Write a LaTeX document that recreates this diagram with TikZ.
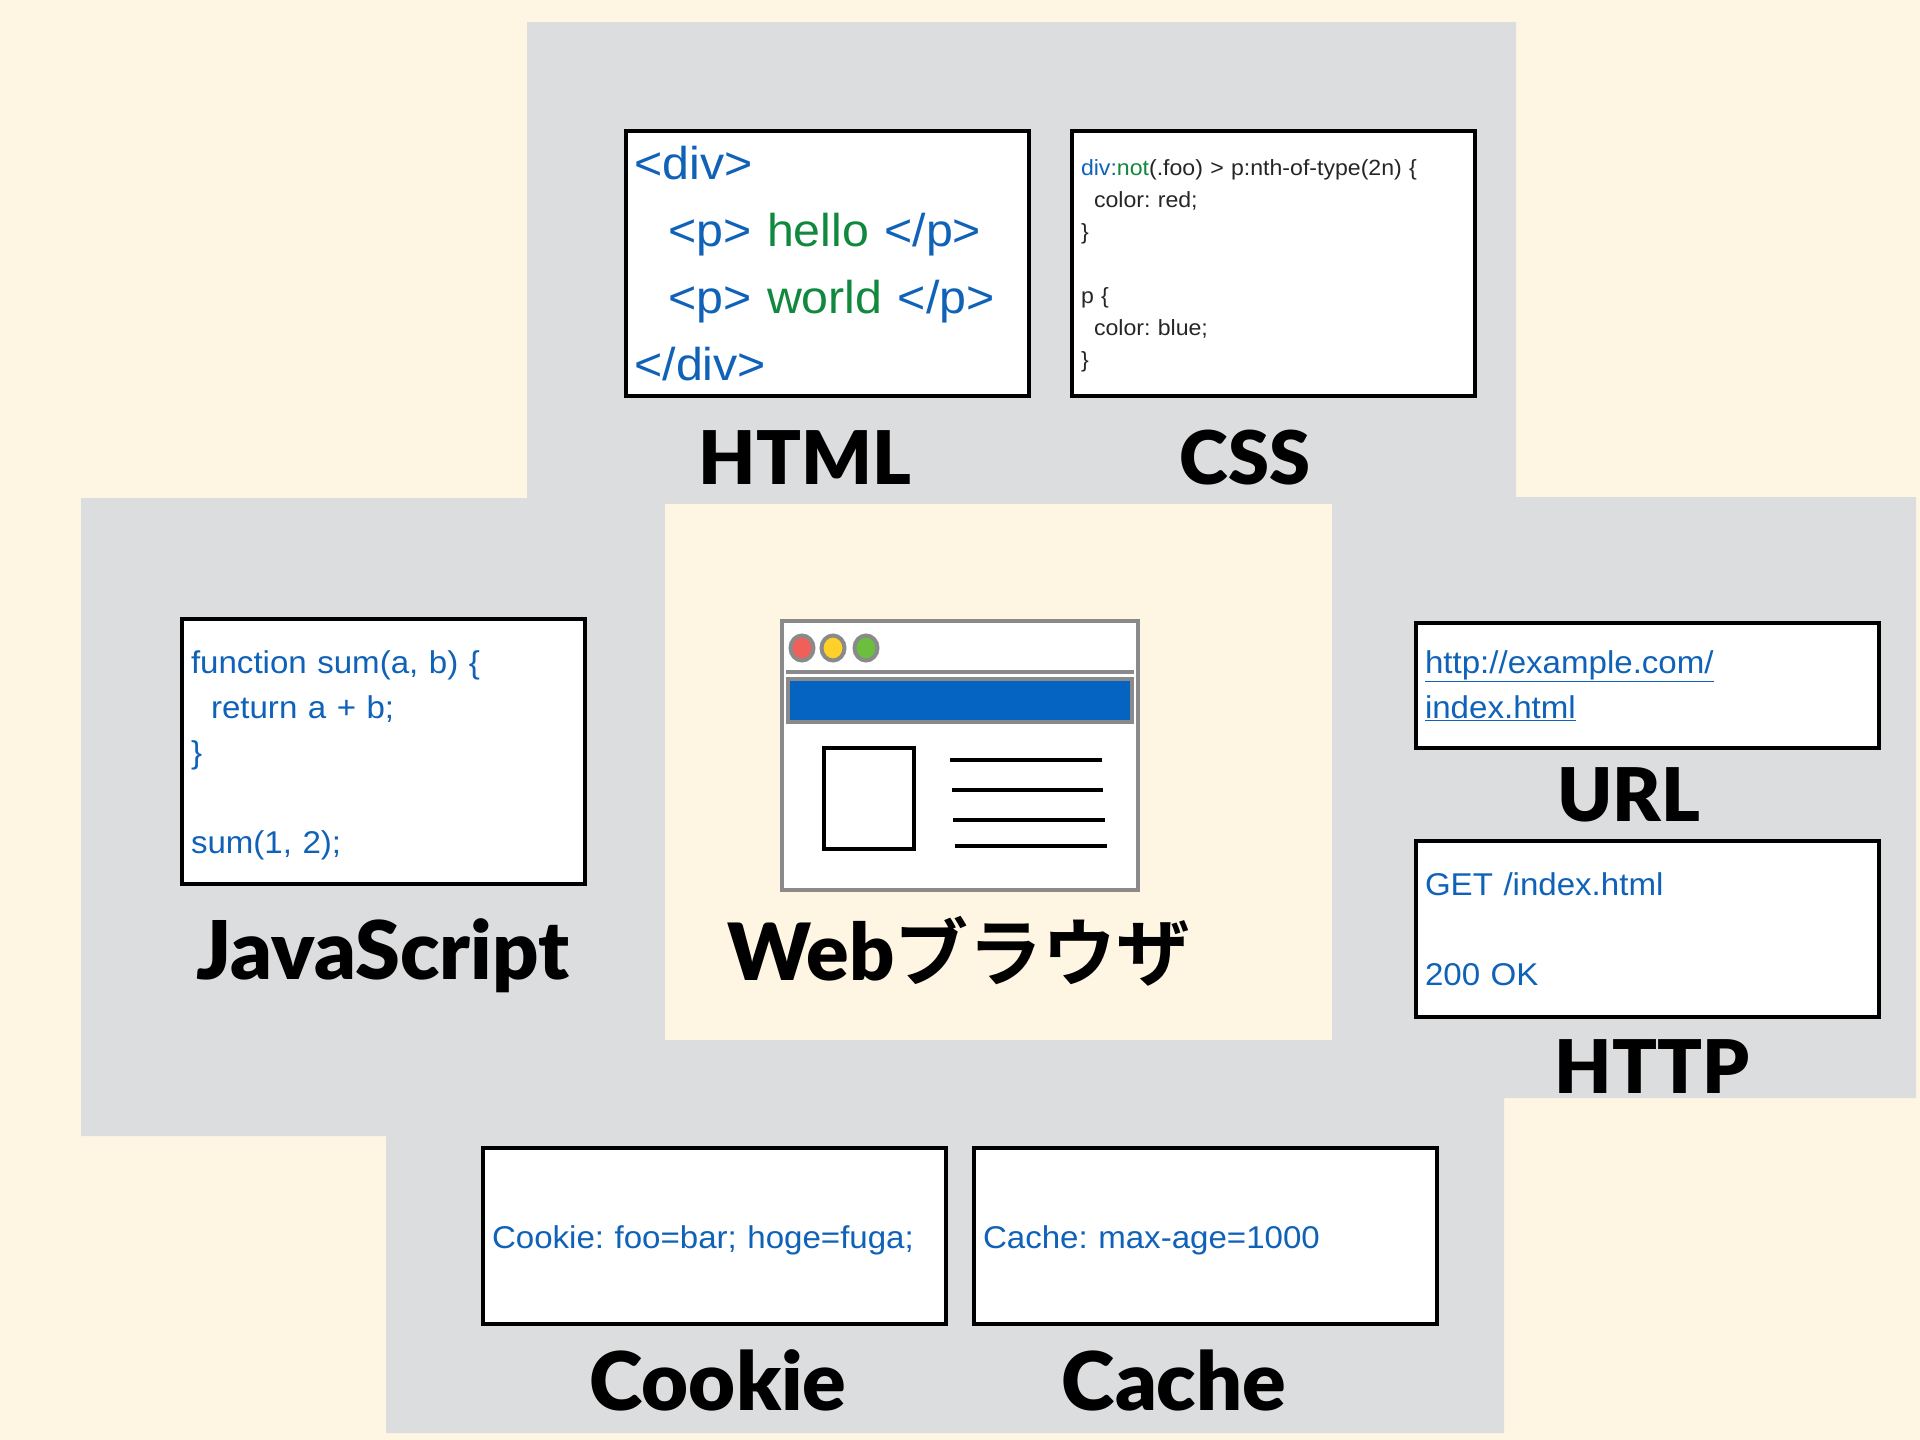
\documentclass[tikz,border=0pt]{standalone}
\usepackage{fontspec}
\setmainfont{Open Sans}
\newfontfamily\labelfont{Lato}[BoldFont={Lato Black}]
\newfontfamily\kanafont{Noto Sans CJK JP}[BoldFont={Noto Sans CJK JP Bold}]
\newfontfamily\codefont{Liberation Sans}[FakeStretch=1.05]
\newcommand{\firstlinegap}[1]{\rule{0pt}{#1}}
\definecolor{bgcream}{HTML}{FFF5E3}
\definecolor{regiongray}{HTML}{DCDDDF}
\definecolor{codeblue}{HTML}{0F62B8}
\definecolor{barblue}{HTML}{0563C1}
\definecolor{codegreen}{HTML}{10893E}
\definecolor{framegray}{HTML}{8A8A8A}
\definecolor{dotred}{HTML}{F0605A}
\definecolor{dotyellow}{HTML}{FFD02A}
\definecolor{dotgreen}{HTML}{6CBF3C}
\tikzset{
  codebox/.style={draw=black,line width=4pt,fill=white,align=left,inner xsep=9pt,inner ysep=0pt,text=codeblue},
  tallbox/.style={codebox,minimum width=403pt,minimum height=265pt,text width=385pt},
  widebox/.style={codebox,minimum width=463pt,text width=445pt},
  caption/.style={font=\labelfont\bfseries\fontsize{74}{80}\selectfont,inner sep=0pt,text=black},
  lowcaption/.style={caption,font=\labelfont\bfseries\fontsize{81}{84}\selectfont},
  bigcode/.style={font=\frenchspacing\codefont\fontsize{46}{67}\selectfont},
  smallcode/.style={font=\frenchspacing\codefont\fontsize{22}{32}\selectfont,text=black!85},
  midcode/.style={font=\frenchspacing\codefont\fontsize{31.5}{45}\selectfont},
  framepart/.style={draw=framegray,line width=4pt},
  inkline/.style={draw=black,line width=4pt},
}
\begin{document}
\begin{tikzpicture}[x=1pt,y=-1pt]
  \useasboundingbox (0,0) rectangle (1920,1440);
  \fill[bgcream] (0,0) rectangle (1920,1440);
  % gray regions
  \fill[regiongray] (527,22) -- (1516,22) -- (1516,497) -- (1916,497) -- (1916,1098)
    -- (1504,1098) -- (1504,1433) -- (386,1433) -- (386,1136) -- (81,1136) -- (81,498)
    -- (527,498) -- cycle;
  \fill[bgcream] (665,504) rectangle (1332,1040);
  % code boxes
  \node[tallbox,bigcode] at (827,263.5) (html) {<div>\\
    \hspace*{34pt}<p> \textcolor{codegreen}{hello} </p>\\
    \hspace*{34pt}<p> \textcolor{codegreen}{world} </p>\\
    </div>};
  \node[tallbox,smallcode] at (1273.5,263.5) (css) {\firstlinegap{21pt}\textcolor{codeblue}{div:}\textcolor{codegreen}{not}(.foo) > p:nth-of-type(2n) \{\\
    \hspace*{13pt}color: red;\\
    \}\\[32pt]
    p \{\\
    \hspace*{13pt}color: blue;\\
    \}};
  \node[tallbox,midcode] at (383.5,751.5) (js) {\firstlinegap{31pt}function sum(a, b) \{\\
    \hspace*{20pt}return a + b;\\
    \}\\[45pt]
    sum(1, 2);};
  \node[widebox,midcode,minimum height=125pt] at (1647.5,685.5) (url) {\underline{http://example.com/}\\
    \underline{index.html}};
  \node[widebox,midcode,minimum height=176pt] at (1647.5,929) (http) {GET /index.html\\[45pt]
    200 OK};
  \node[widebox,midcode,minimum height=176pt] at (714.5,1236) (cookie) {\firstlinegap{31pt}Cookie: foo=bar; hoge=fuga;};
  \node[widebox,midcode,minimum height=176pt] at (1205.5,1236) (cache) {\firstlinegap{31pt}Cache: max-age=1000};
  % captions
  \node[caption] at (805,458) (htmllabel) {HTML};
  \node[caption] at (1245,458) (csslabel) {CSS};
  \node[lowcaption] at (383,956) (jslabel) {JavaScript};
  \node[caption] at (1629,795) (urllabel) {URL};
  \node[caption] at (1652,1067) (httplabel) {HTTP};
  \node[lowcaption] at (718,1380) (cookielabel) {Cookie};
  \node[lowcaption] at (1174,1380) (cachelabel) {Cache};
  \node[caption] at (959,951) (weblabel) {{\fontsize{79}{84}\selectfont Web}{\kanafont\bfseries\fontsize{74}{80}\selectfont ブラウザ}};
  % browser window
  \draw[framepart,fill=white] (782,621) rectangle (1138,890);
  \draw[framepart,fill=dotred] (802,648) ellipse (11.5 and 12.5);
  \draw[framepart,fill=dotyellow] (833,648) ellipse (11.5 and 12.5);
  \draw[framepart,fill=dotgreen] (866,648) ellipse (11.5 and 12.5);
  \draw[framepart] (786,672) -- (1134,672);
  \draw[framepart,fill=barblue] (788,679) rectangle (1132,722);
  \draw[inkline] (824,748) rectangle (914,849);
  \draw[inkline] (950,760) -- (1102,760);
  \draw[inkline] (951.5,790) -- (1103,790);
  \draw[inkline] (953,820) -- (1105,820);
  \draw[inkline] (955,846) -- (1107,846);
\end{tikzpicture}
\end{document}
